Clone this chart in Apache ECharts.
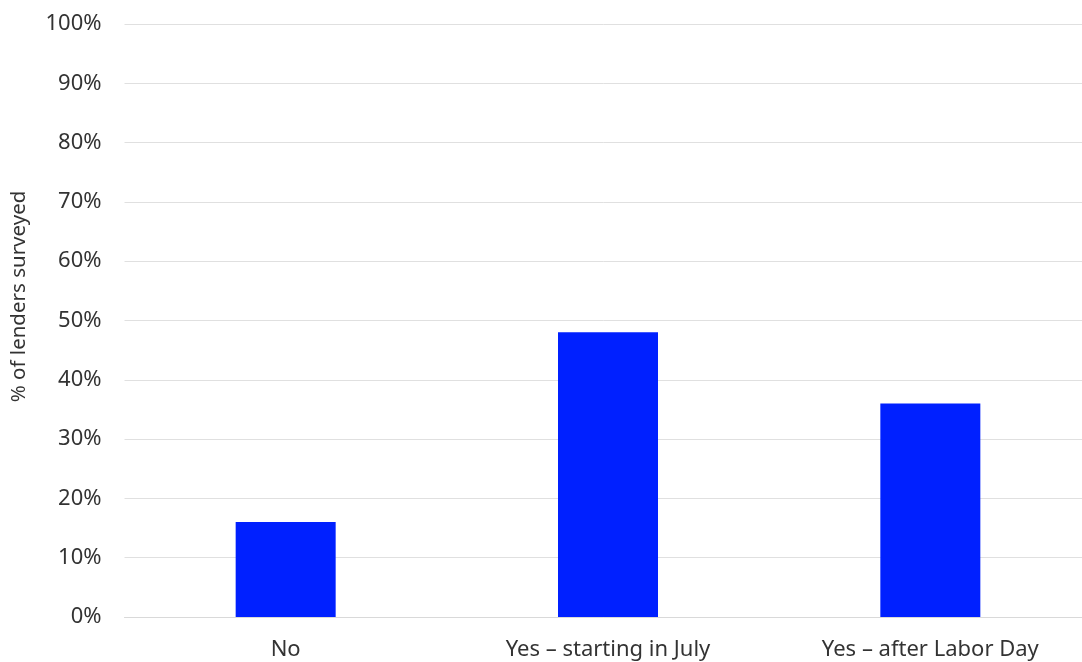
<!DOCTYPE html>
<html>
<head>
<meta charset="utf-8">
<script src="https://cdn.jsdelivr.net/npm/echarts@6/dist/echarts.min.js"></script>
<style>
  html, body { margin: 0; padding: 0; background: #ffffff; }
  #chart { width: 1082px; height: 662px; }
</style>
</head>
<body>
<div id="chart"></div>
<script>
// Survey answers and share of lenders giving each answer (%)
const categories = ['No', 'Yes \u2013 starting in July', 'Yes \u2013 after Labor Day'];
const shares = [16, 48, 36];
const yTicks = { min: 0, max: 100, interval: 10 };
const yAxisTitle = '% of lenders surveyed';

const chart = echarts.init(document.getElementById('chart'));
const fontFamily = '"Noto Sans", "Open Sans", sans-serif';

chart.setOption({
  animation: false,
  backgroundColor: '#ffffff',
  grid: { left: 124.5, top: 24, width: 967, height: 593, containLabel: false, outerBoundsMode: 'none' },
  xAxis: {
    type: 'category',
    data: categories,
    axisLine: { show: true, lineStyle: { color: '#d9d9d9', width: 1 } },
    axisTick: { show: false },
    axisLabel: { color: '#333333', fontSize: 22, fontFamily: fontFamily, margin: 22 }
  },
  yAxis: {
    type: 'value',
    min: yTicks.min,
    max: yTicks.max,
    interval: yTicks.interval,
    name: yAxisTitle,
    nameLocation: 'middle',
    nameGap: 95,
    nameTextStyle: { color: '#333333', fontSize: 20.5, fontFamily: fontFamily, padding: [0, 0, 0, 48] },
    axisLine: { show: false },
    axisTick: { show: false },
    axisLabel: { color: '#333333', fontSize: 22, fontFamily: fontFamily, margin: 23, formatter: '{value}%' },
    splitLine: { show: true, lineStyle: { color: '#e0e0e0', width: 1 } }
  },
  series: [{
    type: 'bar',
    data: shares,
    barWidth: 100,
    itemStyle: { color: '#0020ff' }
  }]
});
</script>
</body>
</html>
